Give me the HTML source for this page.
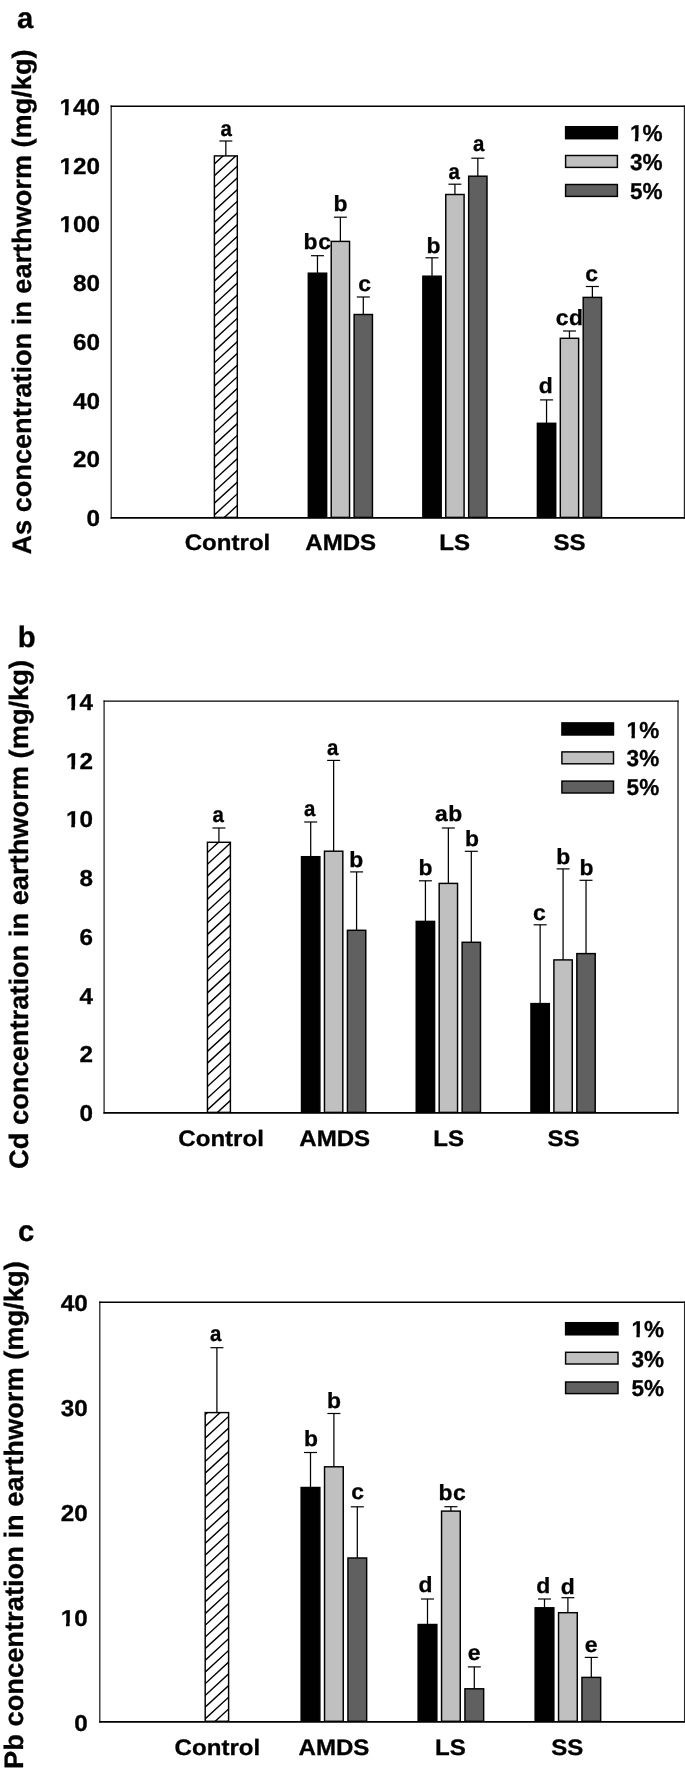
<!DOCTYPE html>
<html lang="en">
<head>
<meta charset="utf-8">
<title>Metal concentration in earthworm</title>
<style>
html,body{margin:0;padding:0;background:#fff;}
body{width:685px;height:1769px;overflow:hidden;}
svg{display:block;text-rendering:geometricPrecision;stroke:#000;stroke-width:0;will-change:transform;opacity:0.9999;font-family:"Liberation Sans", sans-serif;font-weight:bold;fill:#000;}
</style>
</head>
<body>
<svg width="685" height="1769" viewBox="0 0 685 1769">
<rect width="685" height="1769" fill="#fff"/>
<g id="chart-a">
<clipPath id="clipa"><rect x="214.39" y="155.90" width="22.91" height="361.60"/></clipPath>
<line x1="225.84" y1="141.00" x2="225.84" y2="155.90" stroke="#000" stroke-width="1.25"/>
<line x1="219.34" y1="141.00" x2="232.34" y2="141.00" stroke="#000" stroke-width="1.2"/>
<rect x="214.39" y="155.90" width="22.91" height="361.60" fill="#fff"/>
<path d="M213.39 539.22L238.29 516.30M213.39 527.52L238.29 504.60M213.39 515.82L238.29 492.90M213.39 504.12L238.29 481.20M213.39 492.42L238.29 469.50M213.39 480.72L238.29 457.80M213.39 469.02L238.29 446.10M213.39 457.32L238.29 434.40M213.39 445.62L238.29 422.70M213.39 433.92L238.29 411.00M213.39 422.22L238.29 399.30M213.39 410.52L238.29 387.60M213.39 398.82L238.29 375.90M213.39 387.12L238.29 364.20M213.39 375.42L238.29 352.50M213.39 363.72L238.29 340.80M213.39 352.02L238.29 329.10M213.39 340.32L238.29 317.40M213.39 328.62L238.29 305.70M213.39 316.92L238.29 294.00M213.39 305.22L238.29 282.30M213.39 293.52L238.29 270.60M213.39 281.82L238.29 258.90M213.39 270.12L238.29 247.20M213.39 258.42L238.29 235.50M213.39 246.72L238.29 223.80M213.39 235.02L238.29 212.10M213.39 223.32L238.29 200.40M213.39 211.62L238.29 188.70M213.39 199.92L238.29 177.00M213.39 188.22L238.29 165.30M213.39 176.52L238.29 153.60M213.39 164.82L238.29 141.90" stroke="#000" stroke-width="1.4" fill="none" clip-path="url(#clipa)"/>
<rect x="214.39" y="155.90" width="22.91" height="361.50" fill="none" stroke="#000" stroke-width="1.45"/>
<line x1="317.47" y1="255.70" x2="317.47" y2="273.20" stroke="#000" stroke-width="1.25"/>
<line x1="310.97" y1="255.70" x2="323.97" y2="255.70" stroke="#000" stroke-width="1.2"/>
<rect x="308.31" y="273.20" width="18.33" height="244.20" fill="#000" stroke="#000" stroke-width="1.45"/>
<line x1="340.38" y1="217.20" x2="340.38" y2="241.40" stroke="#000" stroke-width="1.25"/>
<line x1="333.88" y1="217.20" x2="346.88" y2="217.20" stroke="#000" stroke-width="1.2"/>
<rect x="331.22" y="241.40" width="18.33" height="276.00" fill="#c0c0c0" stroke="#000" stroke-width="1.45"/>
<line x1="363.29" y1="297.00" x2="363.29" y2="314.50" stroke="#000" stroke-width="1.25"/>
<line x1="356.79" y1="297.00" x2="369.79" y2="297.00" stroke="#000" stroke-width="1.2"/>
<rect x="354.12" y="314.50" width="18.33" height="202.90" fill="#606060" stroke="#000" stroke-width="1.45"/>
<line x1="432.01" y1="257.80" x2="432.01" y2="276.20" stroke="#000" stroke-width="1.25"/>
<line x1="425.51" y1="257.80" x2="438.51" y2="257.80" stroke="#000" stroke-width="1.2"/>
<rect x="422.85" y="276.20" width="18.33" height="241.20" fill="#000" stroke="#000" stroke-width="1.45"/>
<line x1="454.92" y1="184.20" x2="454.92" y2="194.50" stroke="#000" stroke-width="1.25"/>
<line x1="448.42" y1="184.20" x2="461.42" y2="184.20" stroke="#000" stroke-width="1.2"/>
<rect x="445.76" y="194.50" width="18.33" height="322.90" fill="#c0c0c0" stroke="#000" stroke-width="1.45"/>
<line x1="477.83" y1="158.20" x2="477.83" y2="176.20" stroke="#000" stroke-width="1.25"/>
<line x1="471.33" y1="158.20" x2="484.33" y2="158.20" stroke="#000" stroke-width="1.2"/>
<rect x="468.66" y="176.20" width="18.33" height="341.20" fill="#606060" stroke="#000" stroke-width="1.45"/>
<line x1="546.55" y1="399.90" x2="546.55" y2="423.30" stroke="#000" stroke-width="1.25"/>
<line x1="540.05" y1="399.90" x2="553.05" y2="399.90" stroke="#000" stroke-width="1.2"/>
<rect x="537.39" y="423.30" width="18.33" height="94.10" fill="#000" stroke="#000" stroke-width="1.45"/>
<line x1="569.46" y1="331.00" x2="569.46" y2="338.30" stroke="#000" stroke-width="1.25"/>
<line x1="562.96" y1="331.00" x2="575.96" y2="331.00" stroke="#000" stroke-width="1.2"/>
<rect x="560.30" y="338.30" width="18.33" height="179.10" fill="#c0c0c0" stroke="#000" stroke-width="1.45"/>
<line x1="592.37" y1="286.50" x2="592.37" y2="297.40" stroke="#000" stroke-width="1.25"/>
<line x1="585.87" y1="286.50" x2="598.87" y2="286.50" stroke="#000" stroke-width="1.2"/>
<rect x="583.20" y="297.40" width="18.33" height="220.00" fill="#606060" stroke="#000" stroke-width="1.45"/>
<path d="M111.20 105.60V518.70M684.45 105.60V518.70" stroke="#262626" stroke-width="1.3" fill="none"/>
<path d="M110.60 106.30H685.15" stroke="#000" stroke-width="1.4" fill="none"/>
<path d="M110.60 517.90H685.15" stroke="#000" stroke-width="1.7" fill="none"/>
<text transform="translate(100.00 526.20) scale(1.055 1)" font-size="23" text-anchor="end" stroke-width="0.3">0</text>
<text transform="translate(100.00 467.46) scale(1.055 1)" font-size="23" text-anchor="end" stroke-width="0.3">20</text>
<text transform="translate(100.00 408.71) scale(1.055 1)" font-size="23" text-anchor="end" stroke-width="0.3">40</text>
<text transform="translate(100.00 349.97) scale(1.055 1)" font-size="23" text-anchor="end" stroke-width="0.3">60</text>
<text transform="translate(100.00 291.23) scale(1.055 1)" font-size="23" text-anchor="end" stroke-width="0.3">80</text>
<text transform="translate(100.00 232.49) scale(1.055 1)" font-size="23" text-anchor="end" stroke-width="0.3">100</text>
<g transform="translate(100.00 232.49) scale(1.055 1)" fill="#fff" stroke="none"><rect x="-38.13" y="-3.48" width="4.76" height="5.68"/><rect x="-29.95" y="-3.48" width="4.53" height="5.68"/></g>
<text transform="translate(100.00 173.74) scale(1.055 1)" font-size="23" text-anchor="end" stroke-width="0.3">120</text>
<g transform="translate(100.00 173.74) scale(1.055 1)" fill="#fff" stroke="none"><rect x="-38.13" y="-3.48" width="4.76" height="5.68"/><rect x="-29.95" y="-3.48" width="4.53" height="5.68"/></g>
<text transform="translate(100.00 115.00) scale(1.055 1)" font-size="23" text-anchor="end" stroke-width="0.3">140</text>
<g transform="translate(100.00 115.00) scale(1.055 1)" fill="#fff" stroke="none"><rect x="-38.13" y="-3.48" width="4.76" height="5.68"/><rect x="-29.95" y="-3.48" width="4.53" height="5.68"/></g>
<text transform="translate(226.30 135.80) scale(0.93 1)" font-size="22" text-anchor="middle" stroke-width="0.3">a</text>
<text transform="translate(317.50 249.10) scale(1.04 1)" font-size="22" text-anchor="middle" stroke-width="0.3" letter-spacing="0.6">bc</text>
<text transform="translate(340.60 210.90) scale(1.04 1)" font-size="22" text-anchor="middle" stroke-width="0.3">b</text>
<text transform="translate(364.50 290.70) scale(1.04 1)" font-size="22" text-anchor="middle" stroke-width="0.3">c</text>
<text transform="translate(433.40 252.80) scale(1.04 1)" font-size="22" text-anchor="middle" stroke-width="0.3">b</text>
<text transform="translate(454.10 178.80) scale(0.93 1)" font-size="22" text-anchor="middle" stroke-width="0.3">a</text>
<text transform="translate(478.80 150.70) scale(0.93 1)" font-size="22" text-anchor="middle" stroke-width="0.3">a</text>
<text transform="translate(545.70 393.10) scale(1.04 1)" font-size="22" text-anchor="middle" stroke-width="0.3">d</text>
<text transform="translate(569.70 324.70) scale(1.04 1)" font-size="22" text-anchor="middle" stroke-width="0.3" letter-spacing="0.6">cd</text>
<text transform="translate(591.70 281.00) scale(1.04 1)" font-size="22" text-anchor="middle" stroke-width="0.3">c</text>
<text transform="translate(227.50 550.40) scale(1.075 1)" font-size="22.4" text-anchor="middle" stroke-width="0.3">Control</text>
<text transform="translate(340.70 550.40) scale(1.075 1)" font-size="22.4" text-anchor="middle" stroke-width="0.3">AMDS</text>
<text transform="translate(454.75 550.40) scale(1.075 1)" font-size="22.4" text-anchor="middle" stroke-width="0.3">LS</text>
<text transform="translate(569.45 550.40) scale(1.075 1)" font-size="22.4" text-anchor="middle" stroke-width="0.3">SS</text>
<rect x="565.60" y="126.70" width="51.80" height="12.00" fill="#000" stroke="#000" stroke-width="1.45"/>
<rect x="565.60" y="155.50" width="51.80" height="11.90" fill="#c0c0c0" stroke="#000" stroke-width="1.45"/>
<rect x="565.60" y="184.50" width="51.80" height="11.90" fill="#606060" stroke="#000" stroke-width="1.45"/>
<text transform="translate(630.00 141.10) scale(0.98 1)" font-size="23" text-anchor="start" stroke-width="0.3">1%</text>
<g transform="translate(630.00 141.10) scale(0.98 1)" fill="#fff" stroke="none"><rect x="0.23" y="-3.48" width="4.75" height="5.68"/><rect x="8.41" y="-3.48" width="4.53" height="5.68"/></g>
<text transform="translate(630.00 169.90) scale(0.98 1)" font-size="23" text-anchor="start" stroke-width="0.3">3%</text>
<text transform="translate(630.00 199.30) scale(0.98 1)" font-size="23" text-anchor="start" stroke-width="0.3">5%</text>
<text transform="translate(30.70 554.60) rotate(-90) scale(1.017 1)" font-size="26.7" text-anchor="start" stroke-width="0.3">As concentration in earthworm (mg/kg)</text>
<text transform="translate(16.90 28.30) scale(1.0 1)" font-size="29.3" text-anchor="start" stroke-width="0.3">a</text>
</g>
<g id="chart-b">
<clipPath id="clipb"><rect x="207.45" y="842.30" width="22.94" height="270.20"/></clipPath>
<line x1="218.92" y1="828.00" x2="218.92" y2="842.30" stroke="#000" stroke-width="1.25"/>
<line x1="212.42" y1="828.00" x2="225.42" y2="828.00" stroke="#000" stroke-width="1.2"/>
<rect x="207.45" y="842.30" width="22.94" height="270.20" fill="#fff"/>
<path d="M206.45 1134.22L231.39 1111.27M206.45 1122.52L231.39 1099.57M206.45 1110.82L231.39 1087.87M206.45 1099.12L231.39 1076.17M206.45 1087.42L231.39 1064.47M206.45 1075.72L231.39 1052.77M206.45 1064.02L231.39 1041.07M206.45 1052.32L231.39 1029.37M206.45 1040.62L231.39 1017.67M206.45 1028.92L231.39 1005.97M206.45 1017.22L231.39 994.27M206.45 1005.52L231.39 982.57M206.45 993.82L231.39 970.87M206.45 982.12L231.39 959.17M206.45 970.42L231.39 947.47M206.45 958.72L231.39 935.77M206.45 947.02L231.39 924.07M206.45 935.32L231.39 912.37M206.45 923.62L231.39 900.67M206.45 911.92L231.39 888.97M206.45 900.22L231.39 877.27M206.45 888.52L231.39 865.57M206.45 876.82L231.39 853.87M206.45 865.12L231.39 842.17M206.45 853.42L231.39 830.47M206.45 841.72L231.39 818.77" stroke="#000" stroke-width="1.4" fill="none" clip-path="url(#clipb)"/>
<rect x="207.45" y="842.30" width="22.94" height="270.10" fill="none" stroke="#000" stroke-width="1.45"/>
<line x1="310.70" y1="822.00" x2="310.70" y2="856.70" stroke="#000" stroke-width="1.25"/>
<line x1="304.20" y1="822.00" x2="317.20" y2="822.00" stroke="#000" stroke-width="1.2"/>
<rect x="301.52" y="856.70" width="18.36" height="255.70" fill="#000" stroke="#000" stroke-width="1.45"/>
<line x1="333.64" y1="760.40" x2="333.64" y2="851.20" stroke="#000" stroke-width="1.25"/>
<line x1="327.14" y1="760.40" x2="340.14" y2="760.40" stroke="#000" stroke-width="1.2"/>
<rect x="324.46" y="851.20" width="18.36" height="261.20" fill="#c0c0c0" stroke="#000" stroke-width="1.45"/>
<line x1="356.58" y1="871.90" x2="356.58" y2="930.30" stroke="#000" stroke-width="1.25"/>
<line x1="350.08" y1="871.90" x2="363.08" y2="871.90" stroke="#000" stroke-width="1.2"/>
<rect x="347.41" y="930.30" width="18.36" height="182.10" fill="#606060" stroke="#000" stroke-width="1.45"/>
<line x1="425.42" y1="880.80" x2="425.42" y2="921.40" stroke="#000" stroke-width="1.25"/>
<line x1="418.92" y1="880.80" x2="431.92" y2="880.80" stroke="#000" stroke-width="1.2"/>
<rect x="416.24" y="921.40" width="18.36" height="191.00" fill="#000" stroke="#000" stroke-width="1.45"/>
<line x1="448.36" y1="828.00" x2="448.36" y2="883.40" stroke="#000" stroke-width="1.25"/>
<line x1="441.86" y1="828.00" x2="454.86" y2="828.00" stroke="#000" stroke-width="1.2"/>
<rect x="439.18" y="883.40" width="18.36" height="229.00" fill="#c0c0c0" stroke="#000" stroke-width="1.45"/>
<line x1="471.30" y1="851.30" x2="471.30" y2="942.30" stroke="#000" stroke-width="1.25"/>
<line x1="464.80" y1="851.30" x2="477.80" y2="851.30" stroke="#000" stroke-width="1.2"/>
<rect x="462.13" y="942.30" width="18.36" height="170.10" fill="#606060" stroke="#000" stroke-width="1.45"/>
<line x1="540.14" y1="924.80" x2="540.14" y2="1003.60" stroke="#000" stroke-width="1.25"/>
<line x1="533.64" y1="924.80" x2="546.64" y2="924.80" stroke="#000" stroke-width="1.2"/>
<rect x="530.96" y="1003.60" width="18.36" height="108.80" fill="#000" stroke="#000" stroke-width="1.45"/>
<line x1="563.08" y1="868.90" x2="563.08" y2="959.90" stroke="#000" stroke-width="1.25"/>
<line x1="556.58" y1="868.90" x2="569.58" y2="868.90" stroke="#000" stroke-width="1.2"/>
<rect x="553.90" y="959.90" width="18.36" height="152.50" fill="#c0c0c0" stroke="#000" stroke-width="1.45"/>
<line x1="586.02" y1="880.30" x2="586.02" y2="953.60" stroke="#000" stroke-width="1.25"/>
<line x1="579.52" y1="880.30" x2="592.52" y2="880.30" stroke="#000" stroke-width="1.2"/>
<rect x="576.85" y="953.60" width="18.36" height="158.80" fill="#606060" stroke="#000" stroke-width="1.45"/>
<path d="M104.10 700.40V1113.70M678.00 700.40V1113.70" stroke="#262626" stroke-width="1.3" fill="none"/>
<path d="M103.50 701.10H678.70" stroke="#000" stroke-width="1.4" fill="none"/>
<path d="M103.50 1112.90H678.70" stroke="#000" stroke-width="1.7" fill="none"/>
<text transform="translate(93.00 1121.20) scale(1.055 1)" font-size="23" text-anchor="end" stroke-width="0.3">0</text>
<text transform="translate(93.00 1062.43) scale(1.055 1)" font-size="23" text-anchor="end" stroke-width="0.3">2</text>
<text transform="translate(93.00 1003.66) scale(1.055 1)" font-size="23" text-anchor="end" stroke-width="0.3">4</text>
<text transform="translate(93.00 944.89) scale(1.055 1)" font-size="23" text-anchor="end" stroke-width="0.3">6</text>
<text transform="translate(93.00 886.11) scale(1.055 1)" font-size="23" text-anchor="end" stroke-width="0.3">8</text>
<text transform="translate(93.00 827.34) scale(1.055 1)" font-size="23" text-anchor="end" stroke-width="0.3">10</text>
<g transform="translate(93.00 827.34) scale(1.055 1)" fill="#fff" stroke="none"><rect x="-25.35" y="-3.48" width="4.75" height="5.68"/><rect x="-17.17" y="-3.48" width="4.53" height="5.68"/></g>
<text transform="translate(93.00 768.57) scale(1.055 1)" font-size="23" text-anchor="end" stroke-width="0.3">12</text>
<g transform="translate(93.00 768.57) scale(1.055 1)" fill="#fff" stroke="none"><rect x="-25.35" y="-3.48" width="4.75" height="5.68"/><rect x="-17.17" y="-3.48" width="4.53" height="5.68"/></g>
<text transform="translate(93.00 709.80) scale(1.055 1)" font-size="23" text-anchor="end" stroke-width="0.3">14</text>
<g transform="translate(93.00 709.80) scale(1.055 1)" fill="#fff" stroke="none"><rect x="-25.35" y="-3.48" width="4.75" height="5.68"/><rect x="-17.17" y="-3.48" width="4.53" height="5.68"/></g>
<text transform="translate(218.10 822.40) scale(0.93 1)" font-size="22" text-anchor="middle" stroke-width="0.3">a</text>
<text transform="translate(309.65 816.10) scale(0.93 1)" font-size="22" text-anchor="middle" stroke-width="0.3">a</text>
<text transform="translate(332.60 754.50) scale(0.93 1)" font-size="22" text-anchor="middle" stroke-width="0.3">a</text>
<text transform="translate(356.30 866.50) scale(1.04 1)" font-size="22" text-anchor="middle" stroke-width="0.3">b</text>
<text transform="translate(425.40 874.70) scale(1.04 1)" font-size="22" text-anchor="middle" stroke-width="0.3">b</text>
<text transform="translate(448.85 821.40) scale(1.04 1)" font-size="22" text-anchor="middle" stroke-width="0.3" letter-spacing="0.6">ab</text>
<text transform="translate(472.05 845.50) scale(1.04 1)" font-size="22" text-anchor="middle" stroke-width="0.3">b</text>
<text transform="translate(539.30 920.00) scale(1.04 1)" font-size="22" text-anchor="middle" stroke-width="0.3">c</text>
<text transform="translate(563.15 863.50) scale(1.04 1)" font-size="22" text-anchor="middle" stroke-width="0.3">b</text>
<text transform="translate(586.40 875.20) scale(1.04 1)" font-size="22" text-anchor="middle" stroke-width="0.3">b</text>
<text transform="translate(221.10 1145.60) scale(1.075 1)" font-size="22.4" text-anchor="middle" stroke-width="0.3">Control</text>
<text transform="translate(334.70 1145.60) scale(1.075 1)" font-size="22.4" text-anchor="middle" stroke-width="0.3">AMDS</text>
<text transform="translate(448.60 1145.60) scale(1.075 1)" font-size="22.4" text-anchor="middle" stroke-width="0.3">LS</text>
<text transform="translate(563.45 1145.60) scale(1.075 1)" font-size="22.4" text-anchor="middle" stroke-width="0.3">SS</text>
<rect x="561.90" y="722.90" width="51.60" height="12.10" fill="#000" stroke="#000" stroke-width="1.45"/>
<rect x="561.90" y="751.90" width="51.60" height="11.90" fill="#c0c0c0" stroke="#000" stroke-width="1.45"/>
<rect x="561.90" y="781.10" width="51.60" height="11.90" fill="#606060" stroke="#000" stroke-width="1.45"/>
<text transform="translate(626.60 737.50) scale(0.98 1)" font-size="23" text-anchor="start" stroke-width="0.3">1%</text>
<g transform="translate(626.60 737.50) scale(0.98 1)" fill="#fff" stroke="none"><rect x="0.23" y="-3.48" width="4.75" height="5.68"/><rect x="8.41" y="-3.48" width="4.53" height="5.68"/></g>
<text transform="translate(626.60 766.10) scale(0.98 1)" font-size="23" text-anchor="start" stroke-width="0.3">3%</text>
<text transform="translate(626.60 795.40) scale(0.98 1)" font-size="23" text-anchor="start" stroke-width="0.3">5%</text>
<text transform="translate(27.90 1168.90) rotate(-90) scale(1.0215 1)" font-size="26.7" text-anchor="start" stroke-width="0.3">Cd concentration in earthworm (mg/kg)</text>
<text transform="translate(17.70 647.10) scale(1.0 1)" font-size="29.3" text-anchor="start" stroke-width="0.3">b</text>
</g>
<g id="chart-c">
<clipPath id="clipc"><rect x="205.20" y="1412.60" width="23.40" height="308.80"/></clipPath>
<line x1="216.90" y1="1347.70" x2="216.90" y2="1412.60" stroke="#000" stroke-width="1.25"/>
<line x1="210.40" y1="1347.70" x2="223.40" y2="1347.70" stroke="#000" stroke-width="1.2"/>
<rect x="205.20" y="1412.60" width="23.40" height="308.80" fill="#fff"/>
<path d="M204.20 1743.12L229.60 1719.75M204.20 1731.42L229.60 1708.05M204.20 1719.72L229.60 1696.35M204.20 1708.02L229.60 1684.65M204.20 1696.32L229.60 1672.95M204.20 1684.62L229.60 1661.25M204.20 1672.92L229.60 1649.55M204.20 1661.22L229.60 1637.85M204.20 1649.52L229.60 1626.15M204.20 1637.82L229.60 1614.45M204.20 1626.12L229.60 1602.75M204.20 1614.42L229.60 1591.05M204.20 1602.72L229.60 1579.35M204.20 1591.02L229.60 1567.65M204.20 1579.32L229.60 1555.95M204.20 1567.62L229.60 1544.25M204.20 1555.92L229.60 1532.55M204.20 1544.22L229.60 1520.85M204.20 1532.52L229.60 1509.15M204.20 1520.82L229.60 1497.45M204.20 1509.12L229.60 1485.75M204.20 1497.42L229.60 1474.05M204.20 1485.72L229.60 1462.35M204.20 1474.02L229.60 1450.65M204.20 1462.32L229.60 1438.95M204.20 1450.62L229.60 1427.25M204.20 1438.92L229.60 1415.55M204.20 1427.22L229.60 1403.85M204.20 1415.52L229.60 1392.15" stroke="#000" stroke-width="1.4" fill="none" clip-path="url(#clipc)"/>
<rect x="205.20" y="1412.60" width="23.40" height="308.70" fill="none" stroke="#000" stroke-width="1.45"/>
<line x1="310.50" y1="1452.50" x2="310.50" y2="1487.50" stroke="#000" stroke-width="1.25"/>
<line x1="304.00" y1="1452.50" x2="317.00" y2="1452.50" stroke="#000" stroke-width="1.2"/>
<rect x="301.14" y="1487.50" width="18.72" height="233.80" fill="#000" stroke="#000" stroke-width="1.45"/>
<line x1="333.90" y1="1413.50" x2="333.90" y2="1466.80" stroke="#000" stroke-width="1.25"/>
<line x1="327.40" y1="1413.50" x2="340.40" y2="1413.50" stroke="#000" stroke-width="1.2"/>
<rect x="324.54" y="1466.80" width="18.72" height="254.50" fill="#c0c0c0" stroke="#000" stroke-width="1.45"/>
<line x1="357.30" y1="1506.80" x2="357.30" y2="1558.00" stroke="#000" stroke-width="1.25"/>
<line x1="350.80" y1="1506.80" x2="363.80" y2="1506.80" stroke="#000" stroke-width="1.2"/>
<rect x="347.94" y="1558.00" width="18.72" height="163.30" fill="#606060" stroke="#000" stroke-width="1.45"/>
<line x1="427.50" y1="1599.00" x2="427.50" y2="1624.50" stroke="#000" stroke-width="1.25"/>
<line x1="421.00" y1="1599.00" x2="434.00" y2="1599.00" stroke="#000" stroke-width="1.2"/>
<rect x="418.14" y="1624.50" width="18.72" height="96.80" fill="#000" stroke="#000" stroke-width="1.45"/>
<line x1="450.90" y1="1506.70" x2="450.90" y2="1511.10" stroke="#000" stroke-width="1.25"/>
<line x1="444.40" y1="1506.70" x2="457.40" y2="1506.70" stroke="#000" stroke-width="1.2"/>
<rect x="441.54" y="1511.10" width="18.72" height="210.20" fill="#c0c0c0" stroke="#000" stroke-width="1.45"/>
<line x1="474.30" y1="1666.90" x2="474.30" y2="1688.80" stroke="#000" stroke-width="1.25"/>
<line x1="467.80" y1="1666.90" x2="480.80" y2="1666.90" stroke="#000" stroke-width="1.2"/>
<rect x="464.94" y="1688.80" width="18.72" height="32.50" fill="#606060" stroke="#000" stroke-width="1.45"/>
<line x1="544.50" y1="1599.00" x2="544.50" y2="1607.80" stroke="#000" stroke-width="1.25"/>
<line x1="538.00" y1="1599.00" x2="551.00" y2="1599.00" stroke="#000" stroke-width="1.2"/>
<rect x="535.14" y="1607.80" width="18.72" height="113.50" fill="#000" stroke="#000" stroke-width="1.45"/>
<line x1="567.90" y1="1597.70" x2="567.90" y2="1612.70" stroke="#000" stroke-width="1.25"/>
<line x1="561.40" y1="1597.70" x2="574.40" y2="1597.70" stroke="#000" stroke-width="1.2"/>
<rect x="558.54" y="1612.70" width="18.72" height="108.60" fill="#c0c0c0" stroke="#000" stroke-width="1.45"/>
<line x1="591.30" y1="1657.40" x2="591.30" y2="1677.40" stroke="#000" stroke-width="1.25"/>
<line x1="584.80" y1="1657.40" x2="597.80" y2="1657.40" stroke="#000" stroke-width="1.2"/>
<rect x="581.94" y="1677.40" width="18.72" height="43.90" fill="#606060" stroke="#000" stroke-width="1.45"/>
<path d="M99.80 1301.50V1722.60M684.60 1301.50V1722.60" stroke="#262626" stroke-width="1.3" fill="none"/>
<path d="M99.20 1302.20H685.30" stroke="#000" stroke-width="1.4" fill="none"/>
<path d="M99.20 1721.80H685.30" stroke="#000" stroke-width="1.7" fill="none"/>
<text transform="translate(87.70 1730.60) scale(1.055 1)" font-size="23" text-anchor="end" stroke-width="0.3">0</text>
<text transform="translate(87.70 1625.80) scale(1.055 1)" font-size="23" text-anchor="end" stroke-width="0.3">10</text>
<g transform="translate(87.70 1625.80) scale(1.055 1)" fill="#fff" stroke="none"><rect x="-25.35" y="-3.48" width="4.75" height="5.68"/><rect x="-17.17" y="-3.48" width="4.53" height="5.68"/></g>
<text transform="translate(87.70 1521.00) scale(1.055 1)" font-size="23" text-anchor="end" stroke-width="0.3">20</text>
<text transform="translate(87.70 1416.20) scale(1.055 1)" font-size="23" text-anchor="end" stroke-width="0.3">30</text>
<text transform="translate(87.70 1311.40) scale(1.055 1)" font-size="23" text-anchor="end" stroke-width="0.3">40</text>
<text transform="translate(215.75 1341.40) scale(0.93 1)" font-size="22" text-anchor="middle" stroke-width="0.3">a</text>
<text transform="translate(310.95 1445.90) scale(1.04 1)" font-size="22" text-anchor="middle" stroke-width="0.3">b</text>
<text transform="translate(334.05 1407.70) scale(1.04 1)" font-size="22" text-anchor="middle" stroke-width="0.3">b</text>
<text transform="translate(357.50 1499.20) scale(1.04 1)" font-size="22" text-anchor="middle" stroke-width="0.3">c</text>
<text transform="translate(425.50 1591.70) scale(1.04 1)" font-size="22" text-anchor="middle" stroke-width="0.3">d</text>
<text transform="translate(452.45 1500.40) scale(1.04 1)" font-size="22" text-anchor="middle" stroke-width="0.3" letter-spacing="0.6">bc</text>
<text transform="translate(474.00 1659.60) scale(1.04 1)" font-size="22" text-anchor="middle" stroke-width="0.3">e</text>
<text transform="translate(543.30 1592.60) scale(1.04 1)" font-size="22" text-anchor="middle" stroke-width="0.3">d</text>
<text transform="translate(567.80 1593.80) scale(1.04 1)" font-size="22" text-anchor="middle" stroke-width="0.3">d</text>
<text transform="translate(591.20 1651.60) scale(1.04 1)" font-size="22" text-anchor="middle" stroke-width="0.3">e</text>
<text transform="translate(217.40 1754.90) scale(1.075 1)" font-size="22.4" text-anchor="middle" stroke-width="0.3">Control</text>
<text transform="translate(334.00 1754.90) scale(1.075 1)" font-size="22.4" text-anchor="middle" stroke-width="0.3">AMDS</text>
<text transform="translate(450.35 1754.90) scale(1.075 1)" font-size="22.4" text-anchor="middle" stroke-width="0.3">LS</text>
<text transform="translate(567.30 1754.90) scale(1.075 1)" font-size="22.4" text-anchor="middle" stroke-width="0.3">SS</text>
<rect x="565.60" y="1322.70" width="52.40" height="12.10" fill="#000" stroke="#000" stroke-width="1.45"/>
<rect x="565.60" y="1352.30" width="52.40" height="11.70" fill="#c0c0c0" stroke="#000" stroke-width="1.45"/>
<rect x="565.60" y="1382.00" width="52.40" height="11.60" fill="#606060" stroke="#000" stroke-width="1.45"/>
<text transform="translate(631.50 1337.10) scale(0.98 1)" font-size="23" text-anchor="start" stroke-width="0.3">1%</text>
<g transform="translate(631.50 1337.10) scale(0.98 1)" fill="#fff" stroke="none"><rect x="0.23" y="-3.48" width="4.75" height="5.68"/><rect x="8.41" y="-3.48" width="4.53" height="5.68"/></g>
<text transform="translate(631.50 1366.70) scale(0.98 1)" font-size="23" text-anchor="start" stroke-width="0.3">3%</text>
<text transform="translate(631.50 1396.00) scale(0.98 1)" font-size="23" text-anchor="start" stroke-width="0.3">5%</text>
<text transform="translate(22.70 1768.90) rotate(-90) scale(1.022 1)" font-size="26.7" text-anchor="start" stroke-width="0.3">Pb concentration in earthworm (mg/kg)</text>
<text transform="translate(17.90 1240.60) scale(1.0 1)" font-size="29.3" text-anchor="start" stroke-width="0.3">c</text>
</g>
</svg>
</body>
</html>
